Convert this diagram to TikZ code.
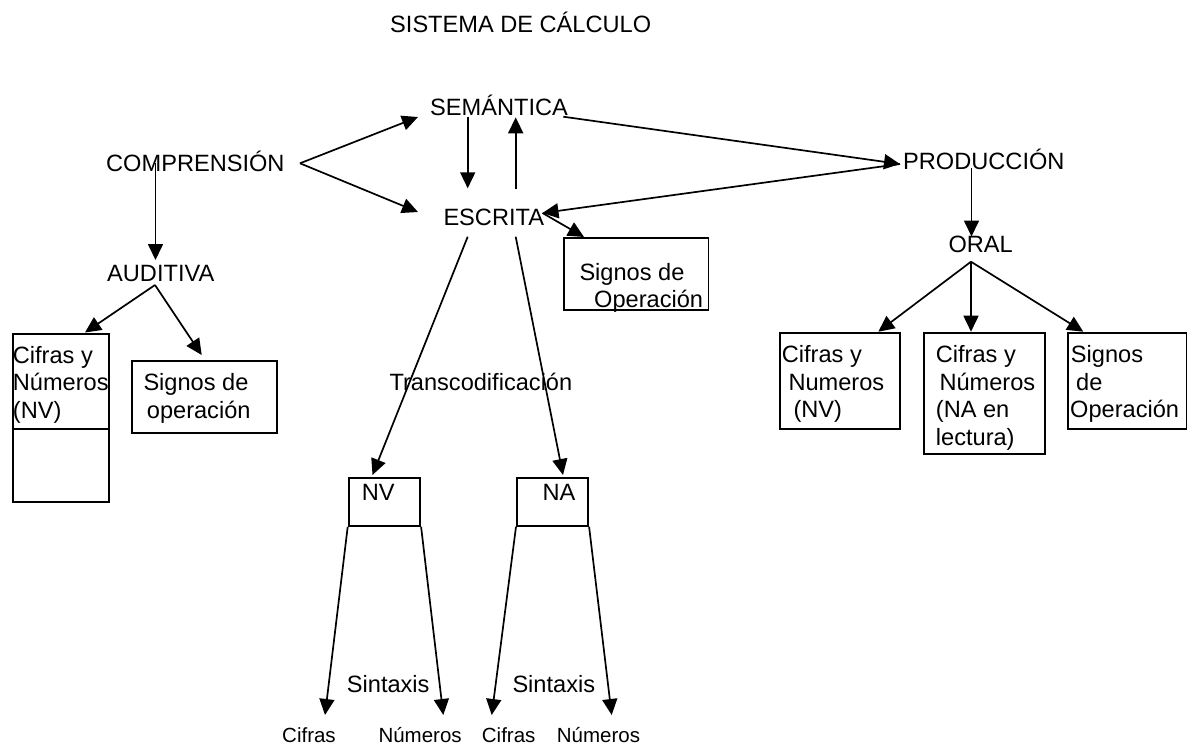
\documentclass[tikz,border=0pt]{standalone}
\usepackage{fontspec}
\setmainfont{Liberation Sans}
\usetikzlibrary{arrows.meta}

\begin{document}
\begin{tikzpicture}[x=1pt,y=-1pt,
  lbl/.style={anchor=base west, inner sep=0pt, font=\fontsize{23.6pt}{27pt}\selectfont},
  small/.style={anchor=base west, inner sep=0pt, font=\fontsize{20.5pt}{24pt}\selectfont},
  box/.style={draw, line width=1.8pt, anchor=north west, inner sep=0pt},
  arr/.style={line width=1.7pt, -{Triangle[length=16pt,width=15pt]}}]

\useasboundingbox (0,0) rectangle (1187,748);

% headings and level labels
\node[lbl] (title) at (390,32) {SISTEMA DE CÁLCULO};
\node[lbl] (sem)   at (430,115) {SEMÁNTICA};
\node[lbl] (comp)  at (106,171) {COMPRENSIÓN};
\node[lbl] (esc)   at (443.3,225.7) {ESCRITA};
\node[lbl] (prod)  at (903,169) {PRODUCCIÓN};
\node[lbl] (aud)   at (107,281) {AUDITIVA};
\node[lbl] (oral)  at (948.3,252.7) {ORAL};
\node[lbl] (transc) at (389.3,390.7) {Transcodificación};

% boxes
\node[box, minimum width=96pt,  minimum height=168.3pt] (audNum) at (11.7,332.7) {};
\draw[line width=1.8pt] (11.7,429) -- (107.7,429);
\node[box, minimum width=145pt, minimum height=72.3pt]  (audSig) at (131,360) {};
\node[box, minimum width=144.2pt, minimum height=72.6pt] (escSig) at (563.3,236.7) {};
\node[box, minimum width=71.6pt, minimum height=48.3pt] (nv) at (347.7,476.7) {};
\node[box, minimum width=71.3pt, minimum height=48.3pt] (na) at (516,476.7) {};
\node[box, minimum width=120.3pt, minimum height=96pt]  (oralNV) at (779,332.3) {};
\node[box, minimum width=120.7pt, minimum height=120.4pt] (oralNA) at (923.3,332.3) {};
\node[box, minimum width=119pt, minimum height=96pt]  (oralSig) at (1067.3,332.3) {};

% box contents
\node[lbl] at (12.7,363) {Cifras y};
\node[lbl] at (12.7,390.7) {Números};
\node[lbl] at (12.7,418) {(NV)};
\node[lbl] at (143.3,390.7) {Signos de};
\node[lbl] at (146.7,418.3) {operación};
\node[lbl] at (579.3,280.7) {Signos de};
\node[lbl] at (594,307.5) {Operación};
\node[lbl] (nvT) at (361.7,500.7) {NV};
\node[lbl] (naT) at (542.3,500.7) {NA};
\node[lbl] at (781.7,362.7) {Cifras y};
\node[lbl] at (788.3,390) {Numeros};
\node[lbl] at (793.3,417.3) {(NV)};
\node[lbl] at (935.7,362.7) {Cifras y};
\node[lbl] at (939.3,390) {Números};
\node[lbl] at (935.7,417.3) {(NA en};
\node[lbl] at (935.7,445) {lectura)};
\node[lbl] at (1070.7,362.7) {Signos};
\node[lbl] at (1076,390) {de};
\node[lbl] at (1070,417.3) {Operación};

% syntax level
\node[lbl] (sin1) at (346.7,692.7) {Sintaxis};
\node[lbl] (sin2) at (512.3,692.7) {Sintaxis};
\node[small] (cif1) at (282,742) {Cifras};
\node[small] (num1) at (378.3,742) {Números};
\node[small] (cif2) at (481.7,742) {Cifras};
\node[small] (num2) at (556.7,742) {Números};

% connector end points
\coordinate (compApex) at (300,163.3);
\coordinate (semIn)    at (418,117);
\coordinate (escIn)    at (418,212);
\coordinate (compDown) at (155.5,163);
\coordinate (audIn)    at (155.5,260);
\coordinate (audApex)  at (155,285);
\coordinate (audNumIn) at (85,332.5);
\coordinate (audSigIn) at (201.7,355);
\coordinate (semDownA) at (467.7,117.3);
\coordinate (semDownB) at (467.7,188.3);
\coordinate (escUpA)   at (515.7,189.3);
\coordinate (escUpB)   at (515.7,117.3);
\coordinate (semOut)   at (563.3,116.7);
\coordinate (prodIn)   at (900,164);
\coordinate (escRight) at (542.5,213);
\coordinate (escSigIn) at (584,237);
\coordinate (escNV)    at (467.7,236.7);
\coordinate (escNA)    at (515.7,236.7);
\coordinate (nvIn)     at (372.5,475);
\coordinate (naIn)     at (563,475);
\coordinate (nvCif)    at (325,715);
\coordinate (nvNum)    at (443.3,715);
\coordinate (naCif)    at (491.7,715);
\coordinate (naNum)    at (611.7,715);
\coordinate (prodDown) at (971.5,168);
\coordinate (oralIn)   at (971.5,236.5);
\coordinate (oralApex) at (971,261.7);
\coordinate (oralNVIn) at (878.3,331.7);
\coordinate (oralNAIn) at (971,331.7);
\coordinate (oralSigIn) at (1083.3,331.7);

% connectors
\draw[arr] (compApex) -- (semIn);
\draw[arr] (compApex) -- (escIn);
\draw[arr] (compDown) -- (audIn);
\draw[arr] (audApex) -- (audNumIn);
\draw[arr] (audApex) -- (audSigIn);
\draw[arr] (semDownA) -- (semDownB);
\draw[arr] (escUpA) -- (escUpB);
\draw[arr] (semOut) -- (prodIn);
\draw[arr] (prodIn) -- (escRight);
\draw[arr] (escRight) -- (escSigIn);
\draw[arr] (escNV) -- (nvIn);
\draw[arr] (escNA) -- (naIn);
\draw[arr] (nv.south west) -- (nvCif);
\draw[arr] (nv.south east) -- (nvNum);
\draw[arr] (na.south west) -- (naCif);
\draw[arr] (na.south east) -- (naNum);
\draw[arr] (prodDown) -- (oralIn);
\draw[arr] (oralApex) -- (oralNVIn);
\draw[arr] (oralApex) -- (oralNAIn);
\draw[arr] (oralApex) -- (oralSigIn);

\end{tikzpicture}
\end{document}
